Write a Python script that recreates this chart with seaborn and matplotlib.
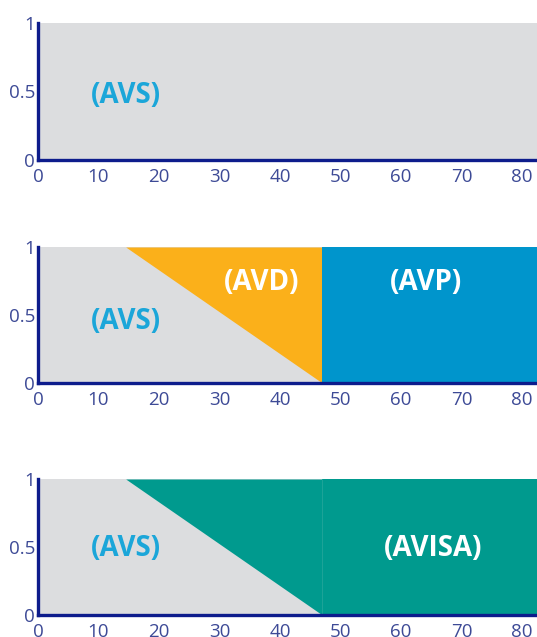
import matplotlib
matplotlib.use("Agg")
import matplotlib.pyplot as plt
import numpy as np
import seaborn as sns

# data (x in same units as the axis, y share 0..1)
x_max = 82.5
diag_top_x = 14.5
boundary_x = 47.0
diag_x = [diag_top_x, boundary_x]
diag_y = [1.0, 0.0]
x_ticks = [0, 10, 20, 30, 40, 50, 60, 70, 80]
y_ticks = [0, 0.5, 1]
y_tick_labels = ["0", "0.5", "1"]

grey = "#DCDDDF"
orange = "#FBB01A"
blue = "#0095CC"
teal = "#009A8E"
avs_color = "#1BA6D9"
spine_color = "#0D1C8C"
tick_color = "#3D4A96"

sns.set_theme(style="white")
plt.rcParams["font.family"] = ["Open Sans", "DejaVu Sans"]

fig = plt.figure(figsize=(5.37, 6.37), dpi=100)
left = 38 / 537
width = 1 - left
rows = [(160, 23), (383, 247), (615, 479)]
axes = []
for bottom_px, top_px in rows:
    b = 1 - bottom_px / 637
    h = (bottom_px - top_px) / 637
    axes.append(fig.add_axes([left, b, width, h]))


def style_axis(ax):
    ax.set_xlim(0, x_max)
    ax.set_ylim(0, 1)
    ax.set_xticks(x_ticks)
    ax.set_yticks(y_ticks)
    ax.set_yticklabels(y_tick_labels)
    ax.tick_params(axis="both", length=0, labelsize=13.5, labelcolor=tick_color)
    ax.tick_params(axis="x", pad=5.5)
    ax.tick_params(axis="y", pad=2)
    sns.despine(ax=ax)
    for side in ["left", "bottom"]:
        ax.spines[side].set_color(spine_color)
        ax.spines[side].set_linewidth(2.4)
        ax.spines[side].set_zorder(5)


label_kw = dict(ha="center", va="center", fontsize=20, fontweight="bold")

# panel 1
ax = axes[0]
ax.fill_between([0, x_max], 0, 1, color=grey, lw=0)
ax.text(14.6, 0.47, "(AVS)", color=avs_color, **label_kw)
style_axis(ax)

# panel 2
ax = axes[1]
ax.fill_between([0, x_max], 0, 1, color=grey, lw=0)
ax.fill_between(diag_x, diag_y, 1, color=orange, lw=0)
ax.fill_between([boundary_x, x_max], 0, 1, color=blue, lw=0)
ax.text(14.6, 0.45, "(AVS)", color=avs_color, **label_kw)
ax.text(37.0, 0.74, "(AVD)", color="white", **label_kw)
ax.text(64.2, 0.74, "(AVP)", color="white", **label_kw)
style_axis(ax)

# panel 3
ax = axes[2]
ax.fill_between([0, x_max], 0, 1, color=grey, lw=0)
ax.fill_between(diag_x, diag_y, 1, color=teal, lw=0)
ax.fill_between([boundary_x, x_max], 0, 1, color=teal, lw=0)
ax.axvline(boundary_x, color="#2AA89D", lw=0.5)
ax.text(14.6, 0.49, "(AVS)", color=avs_color, **label_kw)
ax.text(65.3, 0.49, "(AVISA)", color="white", **label_kw)
style_axis(ax)

fig.savefig("out.png", dpi=100)
